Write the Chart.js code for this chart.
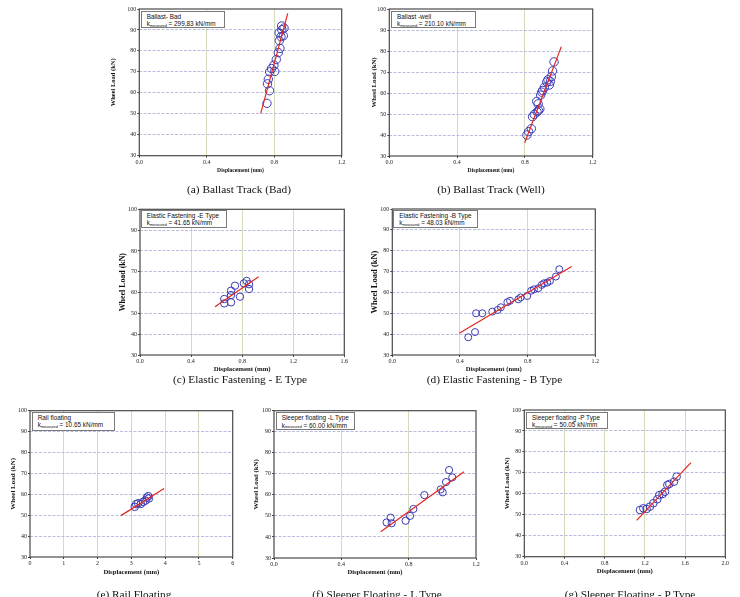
<!DOCTYPE html>
<html><head><meta charset="utf-8">
<script src="https://cdn.jsdelivr.net/npm/chart.js@4.4.1/dist/chart.umd.min.js"></script>
<style>
html,body{margin:0;padding:0;background:#fff;}
#wrap{position:relative;width:740px;height:597px;overflow:hidden;background:#fff;}
canvas{position:absolute;left:0;top:0;}
.box{position:absolute;background:#fff;border:1px solid #7a7a7a;box-sizing:border-box;font-family:'Liberation Sans',Arial,sans-serif;font-size:6.4px;line-height:7.4px;color:#111;padding:1px 0 0 5px;white-space:nowrap;z-index:10;}
.box sub{font-size:3.8px;vertical-align:baseline;position:relative;top:0.6px;}
.cap{position:absolute;font-family:'Liberation Serif','Times New Roman',serif;font-size:11.3px;line-height:13px;color:#111;white-space:nowrap;transform:translateX(-50%);z-index:10;}
</style></head>
<body><div id="wrap"></div>
<script>
// ---------------- data ----------------
const yTickLabels = ['30','40','50','60','70','80','90','100'];
const xTicks12 = ['0.0','0.4','0.8','1.2'];
const xTicks16 = ['0.0','0.4','0.8','1.2','1.6'];
const xTicks20 = ['0.0','0.4','0.8','1.2','1.6','2.0'];
const xTicks6  = ['0','1','2','3','4','5','6'];

const captions = ['(a) Ballast Track (Bad)','(b) Ballast Track (Well)','(c) Elastic Fastening - E Type','(d) Elastic Fastening - B Type','(e) Rail Floating','(f) Sleeper Floating - L Type','(g) Sleeper Floating - P Type'];
const boxTitles = ['Ballast- Bad','Ballast -well','Elastic Fastening -E Type','Elastic Fastening -B Type','Rail floating','Sleeper floating -L Type','Sleeper floating -P Type'];
const kValues = ['299.83','210.10','41.65','48.03','10.65','60.00','50.05'];

// (a) Ballast bad
const aX = [0.757,0.772,0.760,0.765,0.773,0.784,0.803,0.798,0.812,0.824,0.834,0.830,0.840,0.854,0.829,0.845,0.844,0.858];
const aY = [55.0,61.0,64.3,66.5,70.0,71.6,70.2,73.2,75.9,79.2,81.2,84.9,86.8,87.2,88.6,90.1,91.9,90.9];
const aFitX = [0.720,0.880], aFitY = [50.2,97.9];
// (b) Ballast well
const bX = [0.812,0.822,0.838,0.845,0.855,0.872,0.880,0.888,0.878,0.870,0.893,0.899,0.905,0.915,0.929,0.936,0.944,0.950,0.956,0.963,0.972];
const bY = [40.0,41.6,43.0,48.7,49.8,51.0,51.6,52.4,54.8,56.0,59.0,60.4,61.2,62.7,65.2,66.3,63.8,65.5,67.8,70.5,74.8];
const bFitX = [0.799,1.015], bFitY = [36.3,82.1];
// (c) Elastic fastening E
const cX = [0.660,0.660,0.713,0.713,0.713,0.744,0.783,0.814,0.835,0.854,0.854];
const cY = [56.9,54.8,55.3,58.8,60.9,63.3,58.0,64.4,65.6,61.7,64.0];
const cFitX = [0.587,0.929], cFitY = [53.2,67.6];
// (d) Elastic fastening B
const dX = [0.449,0.489,0.495,0.532,0.591,0.623,0.642,0.680,0.696,0.745,0.759,0.798,0.821,0.837,0.863,0.883,0.897,0.916,0.932,0.967,0.987];
const dY = [38.5,41.0,50.0,50.0,50.8,51.6,52.9,55.3,56.0,56.7,57.6,58.3,60.8,61.5,62.0,63.6,64.4,64.7,65.5,67.6,71.1];
const dFitX = [0.396,1.060], dFitY = [40.4,72.4];
// (e) Rail floating
const eX = [3.10,3.14,3.20,3.28,3.35,3.42,3.46,3.50,3.52];
const eY = [54.0,55.3,55.7,55.4,56.4,57.0,58.4,59.1,58.0];
const eFitX = [2.69,3.97], eFitY = [49.8,62.8];
// (f) Sleeper floating L
const fX = [0.669,0.693,0.699,0.782,0.808,0.828,0.893,0.990,1.002,1.022,1.040,1.059];
const fY = [46.9,49.2,46.5,47.7,50.0,53.3,59.9,62.6,61.2,66.1,71.8,68.3];
const fFitX = [0.634,1.129], fFitY = [42.5,71.0];
// (g) Sleeper floating P
const gX = [1.151,1.184,1.217,1.250,1.284,1.323,1.343,1.376,1.400,1.423,1.443,1.490,1.516];
const gY = [52.3,53.1,52.8,53.9,55.5,57.4,59.4,59.9,61.0,64.2,64.7,65.8,68.2];
const gFitX = [1.118,1.658], gFitY = [47.3,74.9];

// ---------------- layout (positions / styles) ----------------
const panels = [
 {x:aX,y:aY,fx:aFitX,fy:aFitY,xt:xTicks12, L:139.3,R:341.7,T:9,B:155.7, yOff:26,ySize:6.5, xOff:15.3,xSize:5.6, r:4.2, box:[140.7,10.7,84.3,17], cap:[239,183.2]},
 {x:bX,y:bY,fx:bFitX,fy:bFitY,xt:xTicks12, L:389.3,R:592.7,T:9,B:156, yOff:15.5,ySize:6.8, xOff:15,xSize:5.6, r:4.2, box:[391,10.7,85,17], cap:[491,183.2]},
 {x:cX,y:cY,fx:cFitX,fy:cFitY,xt:xTicks16, L:140,R:344.3,T:209.3,B:355, yOff:17.3,ySize:7.9, xOff:14,xSize:6.8, r:3.7, box:[140.7,210,86.3,18.3], cap:[240,372.8]},
 {x:dX,y:dY,fx:dFitX,fy:dFitY,xt:xTicks12, L:392.3,R:595.3,T:209,B:355, yOff:17.3,ySize:8.5, xOff:14.3,xSize:6.7, r:3.5, box:[393.3,210,85,18.3], cap:[494.5,372.8]},
 {x:eX,y:eY,fx:eFitX,fy:eFitY,xt:xTicks6,  L:30,R:232.7,T:410.7,B:557, yOff:17.3,ySize:7, xOff:15,xSize:6.7, r:3.8, box:[31.7,411.7,83.3,19.3], cap:[134,588.2]},
 {x:fX,y:fY,fx:fFitX,fy:fFitY,xt:xTicks12, L:274,R:476,T:410.7,B:558, yOff:17.3,ySize:6.8, xOff:14.7,xSize:6.6, r:3.6, box:[275.7,412.3,79.3,17.7], cap:[377,588.2]},
 {x:gX,y:gY,fx:gFitX,fy:gFitY,xt:xTicks20, L:524.3,R:725.3,T:410,B:556.7, yOff:17.6,ySize:7, xOff:14.3,xSize:6.7, r:3.8, box:[526,411.7,82.3,17.6], cap:[630,588.2]}
];

Chart.defaults.font.family = "'Liberation Serif','Times New Roman',serif";
const W = 740, H = 597;
const wrap = document.getElementById('wrap');

const framePlugin = {
  id:'frame',
  afterDatasetsDraw(chart){
    const {ctx, chartArea:a} = chart;
    ctx.save();
    ctx.strokeStyle = '#4a4a4a';
    ctx.lineWidth = 1.2;
    ctx.strokeRect(a.left, a.top, a.right - a.left, a.bottom - a.top);
    ctx.restore();
  }
};

panels.forEach((p, k) => {
  const cv = document.createElement('canvas');
  cv.width = W; cv.height = H;
  wrap.appendChild(cv);
  const yW = p.yOff + p.ySize * 1.2 / 2;
  const xH = p.xOff + p.xSize * 1.2 / 2;
  const xVals = p.xt.map(Number);
  const yVals = yTickLabels.map(Number);
  new Chart(cv, {
    type:'scatter',
    data:{datasets:[
      {data:p.fx.map((v,i)=>({x:v,y:p.fy[i]})), showLine:true, borderColor:'#e3261f', borderWidth:1.2, pointRadius:0, tension:0, fill:false},
      {data:p.x.map((v,i)=>({x:v,y:p.y[i]})), showLine:false, pointRadius:p.r, pointBorderColor:'#3b3bb5', pointBackgroundColor:'rgba(0,0,0,0)', pointBorderWidth:1}
    ]},
    options:{
      responsive:false, animation:false, devicePixelRatio:1,
      layout:{autoPadding:false, padding:{left:p.L - yW, top:p.T, right:W - p.R, bottom:H - p.B - xH}},
      plugins:{legend:{display:false}, tooltip:{enabled:false}},
      scales:{
        x:{
          type:'linear', min:xVals[0], max:xVals[xVals.length-1],
          afterBuildTicks:s=>{ s.ticks = xVals.map(v=>({value:v})); },
          ticks:{callback:(v,i)=>p.xt[i], font:{size:6}, color:'#222', padding:1, maxRotation:0, autoSkip:false},
          grid:{color:c=>(c.index===0||c.index===xVals.length-1)?'rgba(0,0,0,0)':'#d2dcb8', lineWidth:1, tickLength:2, tickColor:'#444', tickWidth:1},
          border:{display:false},
          title:{display:true, text:'Displacement (mm)', font:{size:p.xSize, weight:'bold'}, color:'#111', padding:0},
          afterFit:s=>{ s.height = xH; s.paddingLeft = 0; s.paddingRight = 0; s.paddingTop = 0; s.paddingBottom = 0; }
        },
        y:{
          type:'linear', min:yVals[0], max:yVals[yVals.length-1],
          afterBuildTicks:s=>{ s.ticks = yVals.map(v=>({value:v})); },
          ticks:{callback:(v,i)=>yTickLabels[i], font:{size:6}, color:'#222', padding:1, autoSkip:false},
          grid:{color:c=>(c.index===0||c.index===yVals.length-1)?'rgba(0,0,0,0)':'#b9bde0', lineWidth:1, tickLength:2, tickColor:'#444', tickWidth:1},
          border:{display:false, dash:[3,1.5]},
          title:{display:true, text:'Wheel Load (kN)', font:{size:p.ySize, weight:'bold'}, color:'#111', padding:0},
          afterFit:s=>{ s.width = yW; s.paddingTop = 0; s.paddingBottom = 0; s.paddingLeft = 0; s.paddingRight = 0; }
        }
      }
    },
    plugins:[framePlugin]
  });

  const box = document.createElement('div');
  box.className = 'box';
  box.style.left = p.box[0] + 'px'; box.style.top = p.box[1] + 'px';
  box.style.width = p.box[2] + 'px'; box.style.height = p.box[3] + 'px';
  box.innerHTML = boxTitles[k] + '<br>k<sub>measured</sub> = ' + kValues[k] + ' kN/mm';
  wrap.appendChild(box);

  const cap = document.createElement('div');
  cap.className = 'cap';
  cap.style.left = p.cap[0] + 'px'; cap.style.top = p.cap[1] + 'px';
  cap.textContent = captions[k];
  wrap.appendChild(cap);
});
</script>
</body></html>
